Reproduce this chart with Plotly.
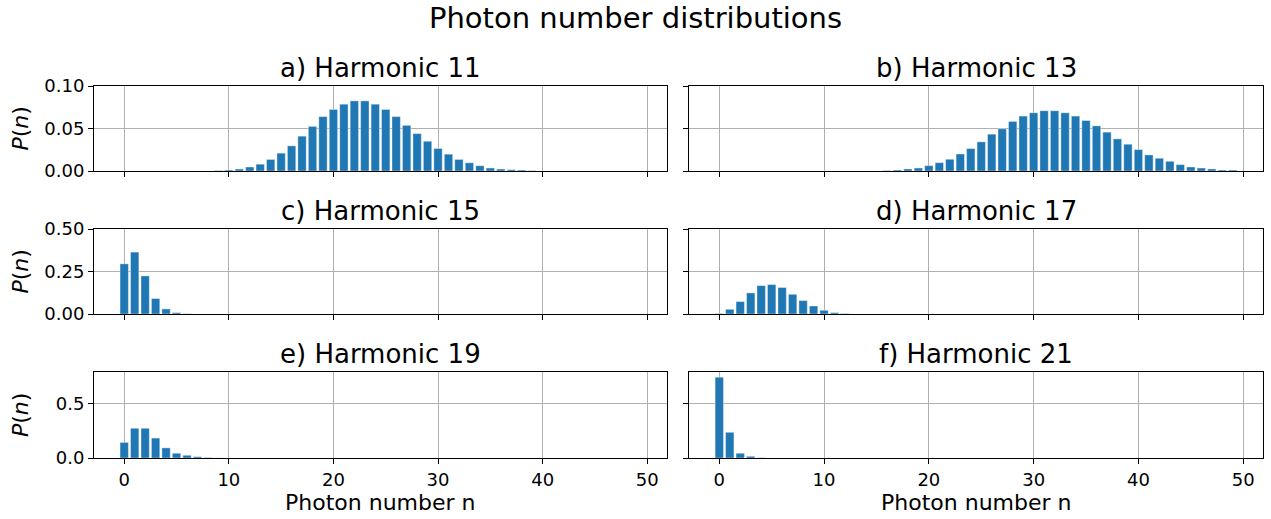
import plotly.graph_objects as go

# Photon number index
n = list(range(50))

# P(n) for each harmonic
p_h11 = [0]*9 + [0.0006, 0.0012, 0.0023, 0.0047, 0.008, 0.0136, 0.021, 0.0296, 0.041, 0.0525, 0.064,
                 0.0724, 0.0786, 0.0825, 0.0825, 0.0786, 0.0724, 0.064, 0.0537, 0.044, 0.035,
                 0.0265, 0.0198, 0.0136, 0.0097, 0.0062, 0.0035, 0.0023, 0.0016, 0.0012, 0.0005] + [0]*10
p_h13 = [0]*16 + [0.0006, 0.0012, 0.0024, 0.0035, 0.0063, 0.0098, 0.0138, 0.020, 0.0264, 0.0343,
                  0.0433, 0.0496, 0.0583, 0.0646, 0.0685, 0.0709, 0.0709, 0.0685, 0.0646, 0.0594,
                  0.0531, 0.0457, 0.0378, 0.0315, 0.0252, 0.0189, 0.015, 0.0114, 0.0075, 0.0047,
                  0.0035, 0.0024, 0.0012, 0.0012]
p_h15 = [0.295, 0.364, 0.224, 0.091, 0.030, 0.008, 0.002] + [0]*43
p_h17 = [0.003, 0.0276, 0.073, 0.124, 0.167, 0.173, 0.156, 0.116, 0.079, 0.047, 0.0217, 0.008, 0.003] + [0]*37
p_h19 = [0.143, 0.273, 0.273, 0.183, 0.093, 0.0435, 0.025, 0.012, 0.004, 0.001] + [0]*40
p_h21 = [0.742, 0.236, 0.0435, 0.0155, 0.003] + [0]*45

titles = ["a) Harmonic 11", "b) Harmonic 13", "c) Harmonic 15",
          "d) Harmonic 17", "e) Harmonic 19", "f) Harmonic 21"]
series = [p_h11, p_h13, p_h15, p_h17, p_h19, p_h21]

# Row-wise y settings
row_ranges = [[0, 0.1], [0, 0.5], [0, 0.79]]
row_ticks = [[0, 0.05, 0.10], [0, 0.25, 0.5], [0, 0.5]]
row_fmt = [".2f", ".2f", ".1f"]
x_ticks = [0, 10, 20, 30, 40, 50]

W, H = 1271, 519
col_px = [(94, 667), (689, 1263)]
row_px = [(86, 171), (229, 314), (372, 458)]

FONT = "DejaVu Sans"
BLUE = "#1f77b4"
GRID = "#b0b0b0"

fig = go.Figure()
layout = dict(
    width=W, height=H,
    margin=dict(l=0, r=0, t=0, b=0, pad=0, autoexpand=False),
    paper_bgcolor="white", plot_bgcolor="white",
    showlegend=False, bargap=0.2,
    font=dict(family=FONT, size=18, color="black"),
)
annotations = []

for i, (ttl, vals) in enumerate(zip(titles, series)):
    r, c = divmod(i, 2)
    k = i + 1
    xa = "xaxis" if k == 1 else f"xaxis{k}"
    ya = "yaxis" if k == 1 else f"yaxis{k}"
    xref = "x" if k == 1 else f"x{k}"
    yref = "y" if k == 1 else f"y{k}"

    fig.add_trace(go.Bar(
        x=n, y=vals, width=0.8, xaxis=xref, yaxis=yref,
        marker=dict(color=BLUE, line=dict(color="rgba(255,255,255,0.55)", width=0.7)),
    ))

    x0, x1 = col_px[c]
    y0, y1 = row_px[r]
    layout[xa] = dict(
        domain=[x0 / W, x1 / W], anchor=yref, range=[-2.89, 51.89],
        tickvals=x_ticks, showticklabels=(r == 2), automargin=False,
        ticks="outside", ticklen=5, tickwidth=1, tickcolor="black",
        showline=True, linecolor="black", linewidth=1, mirror=True,
        showgrid=True, gridcolor=GRID, gridwidth=1, zeroline=False,
        tickfont=dict(family=FONT, size=18, color="black"),
    )
    layout[ya] = dict(
        domain=[1 - y1 / H, 1 - y0 / H], anchor=xref, range=row_ranges[r],
        tickvals=row_ticks[r], tickformat=row_fmt[r], showticklabels=(c == 0),
        automargin=False,
        ticks="outside", ticklen=5, tickwidth=1, tickcolor="black",
        showline=True, linecolor="black", linewidth=1, mirror=True,
        showgrid=True, gridcolor=GRID, gridwidth=1, zeroline=False,
        tickfont=dict(family=FONT, size=18, color="black"),
    )

    # Subplot title
    annotations.append(dict(
        text=ttl, x=(x0 + x1) / 2 / W, y=1 - (y0 - 1) / H,
        xref="paper", yref="paper", xanchor="center", yanchor="bottom",
        showarrow=False, font=dict(family=FONT, size=26, color="black"),
    ))
    # Y-axis label on the left column
    if c == 0:
        annotations.append(dict(
            text="<i>P</i>(<i>n</i>)", x=20 / W, y=1 - (y0 + y1) / 2 / H,
            xref="paper", yref="paper", xanchor="center", yanchor="middle",
            textangle=-90, showarrow=False,
            font=dict(family=FONT, size=22, color="black"),
        ))
    # X-axis label under the bottom row
    if r == 2:
        annotations.append(dict(
            text="Photon number n", x=(x0 + x1) / 2 / W, y=1 - 502 / H,
            xref="paper", yref="paper", xanchor="center", yanchor="middle",
            showarrow=False, font=dict(family=FONT, size=22, color="black"),
        ))

# Figure title
annotations.append(dict(
    text="Photon number distributions", x=0.5, y=1 - 18 / H,
    xref="paper", yref="paper", xanchor="center", yanchor="middle",
    showarrow=False, font=dict(family=FONT, size=29, color="black"),
))

layout["annotations"] = annotations
fig.update_layout(**layout)
fig.write_html("out.html")
